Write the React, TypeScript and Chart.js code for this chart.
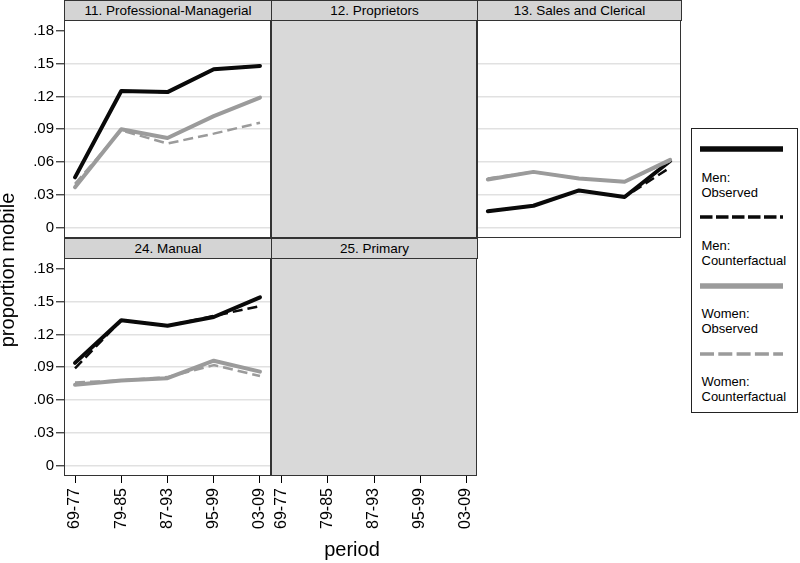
import React, { useEffect, useRef } from "react";
import { Chart, registerables } from "chart.js";

Chart.register(...registerables);

// ---------- data ----------
const periods = ["69-77", "79-85", "87-93", "95-99", "03-09"];
const yTickValues = [0, 0.03, 0.06, 0.09, 0.12, 0.15, 0.18];
const yTickLabels = ["0", ".03", ".06", ".09", ".12", ".15", ".18"];
const panelTitles = [
  "11. Professional-Managerial",
  "12. Proprietors",
  "13. Sales and Clerical",
  "24. Manual",
  "25. Primary",
];
const legendLabels = [
  ["Men:", "Observed"],
  ["Men:", "Counterfactual"],
  ["Women:", "Observed"],
  ["Women:", "Counterfactual"],
];

const menObs11 = [0.046, 0.125, 0.124, 0.145, 0.148];
const menCf11 = [0.046, 0.125, 0.124, 0.145, 0.148];
const womenObs11 = [0.037, 0.09, 0.082, 0.102, 0.119];
const womenCf11 = [0.04, 0.089, 0.077, 0.086, 0.096];

const menObs13 = [0.015, 0.02, 0.034, 0.028, 0.061];
const menCf13 = [0.015, 0.02, 0.034, 0.028, 0.055];
const womenObs13 = [0.044, 0.051, 0.045, 0.042, 0.062];
const womenCf13 = [0.045, 0.051, 0.045, 0.042, 0.061];

const menObs24 = [0.094, 0.133, 0.128, 0.136, 0.154];
const menCf24 = [0.089, 0.133, 0.128, 0.137, 0.146];
const womenObs24 = [0.074, 0.078, 0.08, 0.096, 0.086];
const womenCf24 = [0.076, 0.078, 0.081, 0.092, 0.082];

// ---------- style / layout ----------
const FONT = "'Liberation Sans', Arial, Helvetica, sans-serif";
const W = 800;
const H = 563;
const Y_MIN = -0.0095;
const Y_MAX = 0.19;
const X_MIN = -0.238;
const X_MAX = 4.238;
const BLACK = "#0a0a0a";
const GRAY = "#9b9b9b";
const FRAME = "#333333";
const ROW_Y0 = [20, 258];
const ROW_Y1 = [238, 476];
const COL_X0 = [64, 271, 477];
const COL_X1 = [271, 477, 681];

type Series = { men: number[]; menCf: number[]; women: number[]; womenCf: number[] } | null;
type PanelCfg = {
  title: string;
  row: number;
  col: number;
  yLabels: boolean;
  xAxis: boolean;
  series: Series;
};

const panels: PanelCfg[] = [
  { title: panelTitles[0], row: 0, col: 0, yLabels: true, xAxis: false, series: { men: menObs11, menCf: menCf11, women: womenObs11, womenCf: womenCf11 } },
  { title: panelTitles[1], row: 0, col: 1, yLabels: false, xAxis: false, series: null },
  { title: panelTitles[2], row: 0, col: 2, yLabels: false, xAxis: false, series: { men: menObs13, menCf: menCf13, women: womenObs13, womenCf: womenCf13 } },
  { title: panelTitles[3], row: 1, col: 0, yLabels: true, xAxis: true, series: { men: menObs24, menCf: menCf24, women: womenObs24, womenCf: womenCf24 } },
  { title: panelTitles[4], row: 1, col: 1, yLabels: false, xAxis: true, series: null },
];

const framePlugin = {
  id: "panelFrame",
  beforeDraw(chart: any, _args: any, opts: any) {
    if (opts && opts.fill) {
      const { left, top, right, bottom } = chart.chartArea;
      const ctx = chart.ctx;
      ctx.save();
      ctx.fillStyle = opts.fill;
      ctx.fillRect(left, top, right - left, bottom - top);
      ctx.restore();
    }
  },
  afterDraw(chart: any) {
    const { left, top, right, bottom } = chart.chartArea;
    const ctx = chart.ctx;
    ctx.save();
    ctx.strokeStyle = FRAME;
    ctx.lineWidth = 1;
    const l = Math.round(left) + 0.5;
    const t = Math.round(top) + 0.5;
    const r = Math.round(right) - 0.5;
    const b = Math.round(bottom) - 0.5;
    ctx.strokeRect(l, t, r - l, b - t);
    ctx.restore();
  },
};

function line(vals: number[], color: string, width: number, dash: number[]) {
  return {
    data: vals.map((v, i) => ({ x: i, y: v })),
    borderColor: color,
    backgroundColor: color,
    borderWidth: width,
    borderDash: dash,
    pointRadius: 0,
    tension: 0,
    fill: false,
    borderJoinStyle: "round" as const,
    borderCapStyle: dash.length ? ("butt" as const) : ("round" as const),
  };
}

function Panel({ cfg }: { cfg: PanelCfg }) {
  const ref = useRef<HTMLCanvasElement>(null);
  useEffect(() => {
    const x0 = COL_X0[cfg.col];
    const x1 = COL_X1[cfg.col];
    const y0 = ROW_Y0[cfg.row];
    const y1 = ROW_Y1[cfg.row];
    const yAxisW = cfg.yLabels ? 64 : 0;
    const xAxisH = cfg.xAxis ? 60 : 0;
    const s = cfg.series;
    const datasets: any[] = s
      ? [
          line(s.womenCf, GRAY, 2.5, [10, 5]),
          line(s.women, GRAY, 4, []),
          line(s.menCf, BLACK, 2.5, [10, 5]),
          line(s.men, BLACK, 4, []),
        ]
      : [];
    const chart = new Chart(ref.current as HTMLCanvasElement, {
      type: "line",
      data: { datasets },
      options: {
        animation: false,
        responsive: false,
        events: [],
        layout: {
          padding: {
            left: cfg.yLabels ? x0 - yAxisW : x0,
            right: W - x1,
            top: y0,
            bottom: H - y1 - xAxisH,
          },
        },
        plugins: {
          legend: { display: false },
          tooltip: { enabled: false },
          panelFrame: { fill: s ? null : "#d9d9d9" },
        } as any,
        scales: {
          x: {
            type: "linear",
            min: X_MIN,
            max: X_MAX,
            display: cfg.xAxis,
            afterBuildTicks: (sc: any) => {
              sc.ticks = periods.map((_, i) => ({ value: i }));
            },
            afterFit: (sc: any) => {
              sc.height = xAxisH;
            },
            border: { display: false },
            grid: {
              display: true,
              drawOnChartArea: false,
              drawTicks: true,
              tickLength: 7,
              tickColor: "#000",
              tickWidth: 1,
            },
            ticks: {
              autoSkip: false,
              maxRotation: 90,
              minRotation: 90,
              padding: 5,
              color: "#000",
              font: { family: FONT, size: 16 },
              callback: (_v: any, i: number) => periods[i],
            },
          },
          y: {
            type: "linear",
            min: Y_MIN,
            max: Y_MAX,
            display: !!s || cfg.yLabels,
            afterBuildTicks: (sc: any) => {
              sc.ticks = yTickValues.map((v) => ({ value: v }));
            },
            afterFit: (sc: any) => {
              sc.width = yAxisW;
            },
            border: { display: false },
            grid: {
              display: true,
              drawOnChartArea: !!s,
              drawTicks: cfg.yLabels,
              tickLength: 8,
              tickColor: "#000",
              tickWidth: 1,
              lineWidth: 1.6,
              color: (ctx: any) =>
                ctx.tick && ctx.tick.value > 0.16 ? "rgba(0,0,0,0)" : "#e1e1e1",
            },
            ticks: {
              display: cfg.yLabels,
              padding: 2,
              color: "#000",
              font: { family: FONT, size: 15 },
              callback: (_v: any, i: number) => yTickLabels[i],
            },
          },
        },
      },
      plugins: [framePlugin],
    } as any);
    return () => chart.destroy();
  }, []);
  return (
    <canvas
      ref={ref}
      width={W}
      height={H}
      style={{ position: "absolute", left: 0, top: 0, width: W, height: H }}
    />
  );
}

function Strip({ cfg }: { cfg: PanelCfg }) {
  const x0 = COL_X0[cfg.col];
  const x1 = COL_X1[cfg.col];
  const y0 = ROW_Y0[cfg.row];
  return (
    <div
      style={{
        position: "absolute",
        left: x0,
        top: y0 - 20,
        width: x1 - x0 + 1,
        height: 21,
        boxSizing: "border-box",
        border: `1px solid ${FRAME}`,
        background: "#d4d4d4",
        fontFamily: FONT,
        fontSize: 13.5,
        lineHeight: "19px",
        textAlign: "center",
        color: "#000",
        whiteSpace: "nowrap",
      }}
    >
      {cfg.title}
    </div>
  );
}

const legendKeys = [
  { color: BLACK, width: 5.5, dash: "" },
  { color: BLACK, width: 3.5, dash: "12.5 3.5" },
  { color: GRAY, width: 5.5, dash: "" },
  { color: GRAY, width: 3.5, dash: "14 4.3" },
];

function Legend() {
  const keyY = [149, 217, 285.7, 354];
  const textTop = [169.5, 237.5, 305.5, 374];
  return (
    <div>
      <div
        style={{
          position: "absolute",
          left: 691,
          top: 128,
          width: 107,
          height: 285,
          boxSizing: "border-box",
          border: "1px solid #222",
          background: "#fff",
        }}
      />
      {legendKeys.map((k, i) => (
        <svg
          key={"k" + i}
          width={83}
          height={10}
          style={{ position: "absolute", left: 700, top: keyY[i] - 5 }}
        >
          <line
            x1={0}
            y1={5}
            x2={83}
            y2={5}
            stroke={k.color}
            strokeWidth={k.width}
            strokeDasharray={k.dash || undefined}
          />
        </svg>
      ))}
      {legendLabels.map((lab, i) => (
        <div
          key={"t" + i}
          style={{
            position: "absolute",
            left: 701.5,
            top: textTop[i],
            fontFamily: FONT,
            fontSize: 13,
            lineHeight: "15px",
            color: "#000",
            whiteSpace: "nowrap",
          }}
        >
          {lab[0]}
          <br />
          {lab[1]}
        </div>
      ))}
    </div>
  );
}

export default function App() {
  return (
    <div
      style={{
        position: "absolute",
        left: 0,
        top: 0,
        width: W,
        height: H,
        background: "#fff",
        overflow: "hidden",
      }}
    >
      {panels.map((p, i) => (
        <Panel key={"p" + i} cfg={p} />
      ))}
      {panels.map((p, i) => (
        <Strip key={"s" + i} cfg={p} />
      ))}
      <Legend />
      <div
        style={{
          position: "absolute",
          left: -93,
          top: 259,
          width: 200,
          height: 22,
          lineHeight: "22px",
          fontFamily: FONT,
          fontSize: 20,
          textAlign: "center",
          transform: "rotate(-90deg)",
          color: "#000",
          whiteSpace: "nowrap",
        }}
      >
        proportion mobile
      </div>
      <div
        style={{
          position: "absolute",
          left: 252,
          top: 539,
          width: 200,
          lineHeight: "20px",
          fontFamily: FONT,
          fontSize: 20,
          textAlign: "center",
          color: "#000",
        }}
      >
        period
      </div>
    </div>
  );
}
